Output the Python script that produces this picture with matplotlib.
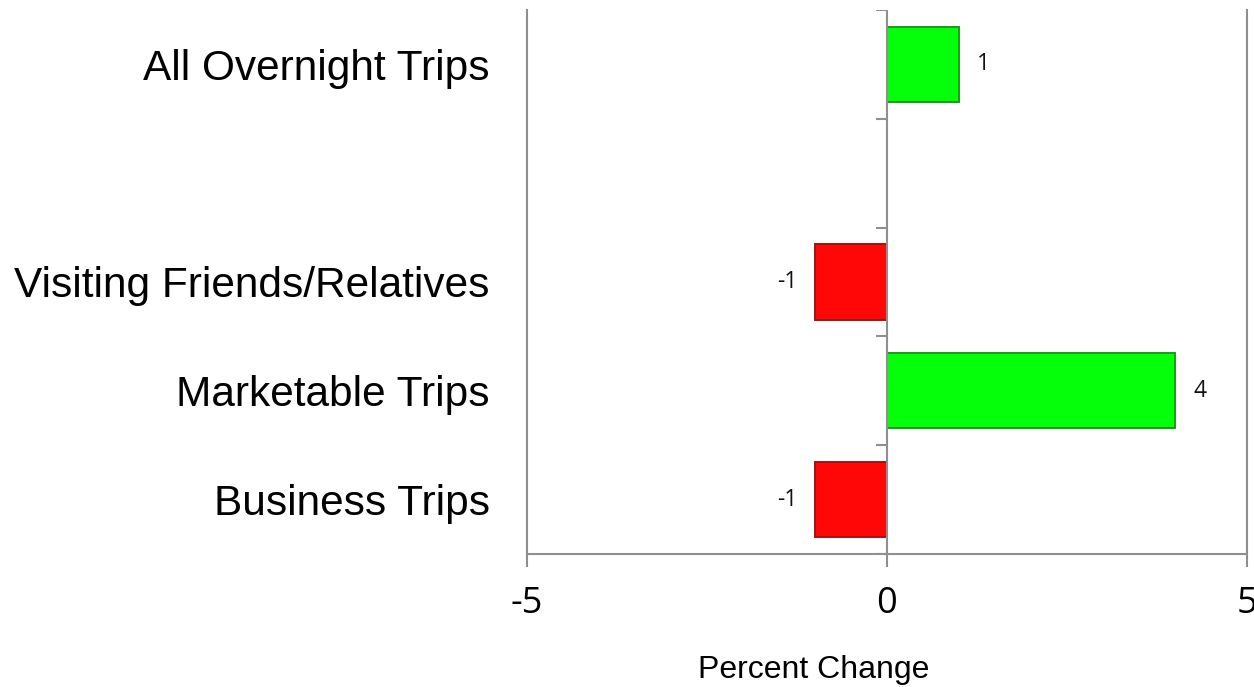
import matplotlib
matplotlib.use("Agg")
import matplotlib.pyplot as plt
import numpy as np

# Categories listed top to bottom; an empty slot separates the total from the breakdown
categories = ["All Overnight Trips", "", "Visiting Friends/Relatives", "Marketable Trips", "Business Trips"]
values = [1, None, -1, 4, -1]
x_ticks = [-5, 0, 5]
x_label = "Percent Change"

GRAY = "#8f8f8f"
POS_FACE, POS_EDGE = "#05ff0a", "#12a012"
NEG_FACE, NEG_EDGE = "#ff0707", "#a01515"

fig = plt.figure(figsize=(12.54, 6.87), dpi=100)
W, H = 1254, 687
ax = fig.add_axes([527 / W, 1 - 554 / H, (1247 - 527) / W, (554 - 10) / H])

pos = np.arange(len(categories))
for p, v in zip(pos, values):
    if v is None:
        continue
    face, edge = (POS_FACE, POS_EDGE) if v >= 0 else (NEG_FACE, NEG_EDGE)
    bars = ax.barh(p, v, height=0.69, color=face, edgecolor=edge, linewidth=1.4, zorder=3)
    ax.bar_label(bars, labels=[f"{v:g}"], padding=13, fontsize=16.5,
                 family="Open Sans", color="#111111")

ax.set_xlim(x_ticks[0], x_ticks[-1])
ax.set_ylim(len(categories) - 0.5, -0.5)

# Frame: left, right and bottom lines in gray
for side in ("left", "right", "bottom"):
    ax.spines[side].set_color(GRAY)
    ax.spines[side].set_linewidth(1.5)
ax.spines["top"].set_visible(False)

# Zero axis with tick marks at the category boundaries
ax.axvline(0, color=GRAY, linewidth=1.5, zorder=4)
tick_len = 11 / 72.0
bounds = np.arange(len(categories) + 1) - 0.5
ax.hlines(bounds, -tick_len, 0, color=GRAY, linewidth=1.5, zorder=4)

ax.set_xticks(x_ticks)
ax.set_xticklabels([f"{t:g}" for t in x_ticks], family="Open Sans", fontsize=26)
ax.tick_params(axis="x", direction="out", length=9, width=1.5, color=GRAY, pad=14)

ax.set_yticks(pos)
ax.set_yticklabels(categories, family="Liberation Sans", fontsize=30.5)
ax.tick_params(axis="y", length=0, pad=27)

ax.set_xlabel(x_label, family="Liberation Sans", fontsize=23)
ax.xaxis.set_label_coords((814 - 527) / 720, -0.185)

fig.savefig("out.png", dpi=100, facecolor="white")
